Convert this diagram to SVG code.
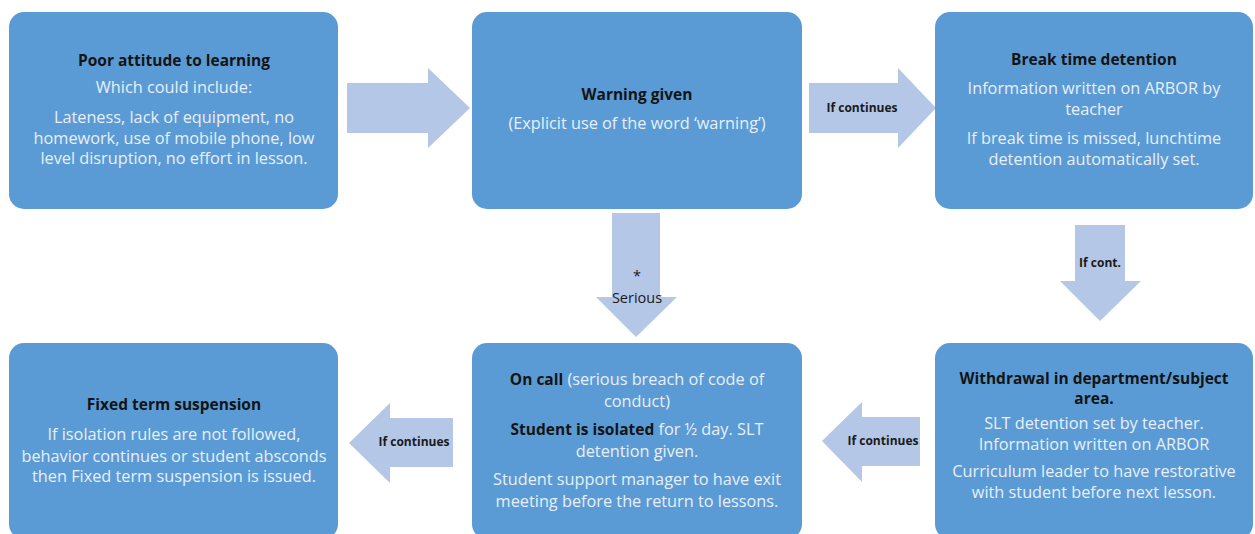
<svg xmlns="http://www.w3.org/2000/svg" width="1255" height="534" viewBox="0 0 1255 534">
  <style>
    .box { fill: #5b9bd5; }
    .arrow { fill: #b4c7e7; }
    text { font-family: "Open Sans", "Liberation Sans", Arial, sans-serif; text-anchor: middle; }
    .title { font-size: 15.5px; font-weight: bold; fill: #141414; }
    .body { font-size: 16.3px; fill: #e8eff8; }
    .lbl { font-size: 12px; font-weight: bold; fill: #1a1a1a; }
    .lbl2 { font-size: 14.5px; fill: #1a1a1a; }
    .dark { font-weight: bold; fill: #141414; font-size: 15.5px; }
  </style>

  <!-- connectors: block arrows between the steps -->
  <g id="connectors">
    <polygon class="arrow" points="347,83 428,83 428,68 470,108 428,148 428,133 347,133"/>
    <polygon class="arrow" points="809,83 898,83 898,68 936,108 898,148 898,133 809,133"/>
    <text class="lbl" x="862" y="112">If continues</text>
    <polygon class="arrow" points="612,213 660,213 660,297 677,297 636,337 596,297 612,297"/>
    <text class="lbl2" x="637" y="281">*</text>
    <text class="lbl2" x="637" y="303">Serious</text>
    <polygon class="arrow" points="1075,225 1125,225 1125,281 1141,281 1100,321 1060,281 1075,281"/>
    <text class="lbl" x="1100" y="267">If cont.</text>
    <polygon class="arrow" points="920,417 862,417 862,402 822,441 862,482 862,466 920,466"/>
    <text class="lbl" x="883" y="445">If continues</text>
    <polygon class="arrow" points="453,418 390,418 390,403 349,443 390,483 390,467 453,467"/>
    <text class="lbl" x="414" y="446">If continues</text>
  </g>

  <g id="poor-attitude">
    <rect class="box" x="9" y="12" width="329" height="197" rx="15"/>
    <text class="title" x="174" y="66">Poor attitude to learning</text>
    <text class="body" x="174" y="93">Which could include:</text>
    <text class="body" x="174" y="123">Lateness, lack of equipment, no</text>
    <text class="body" x="174" y="144">homework, use of mobile phone, low</text>
    <text class="body" x="174" y="164">level disruption, no effort in lesson.</text>
  </g>

  <g id="warning-given">
    <rect class="box" x="472" y="12" width="330" height="197" rx="15"/>
    <text class="title" x="637" y="100">Warning  given</text>
    <text class="body" x="637" y="129">(Explicit use of the word ‘warning’)</text>
  </g>

  <g id="break-time-detention">
    <rect class="box" x="935" y="12" width="318" height="197" rx="15"/>
    <text class="title" x="1094" y="65">Break time detention</text>
    <text class="body" x="1094" y="94">Information written on ARBOR by</text>
    <text class="body" x="1094" y="115">teacher</text>
    <text class="body" x="1094" y="144">If break time is missed, lunchtime</text>
    <text class="body" x="1094" y="165">detention automatically set.</text>
  </g>

  <g id="fixed-term-suspension">
    <rect class="box" x="9" y="343" width="329" height="196" rx="15"/>
    <text class="title" x="174" y="410">Fixed term suspension</text>
    <text class="body" x="174" y="440">If isolation rules are not followed,</text>
    <text class="body" x="174" y="462">behavior continues or student absconds</text>
    <text class="body" x="174" y="482">then Fixed term suspension is issued.</text>
  </g>

  <g id="on-call">
    <rect class="box" x="472" y="343" width="330" height="196" rx="15"/>
    <text class="body" x="637" y="385"><tspan class="dark">On call</tspan> (serious breach of code of</text>
    <text class="body" x="637" y="407">conduct)</text>
    <text class="body" x="637" y="435"><tspan class="dark">Student is isolated</tspan> for ½ day. SLT</text>
    <text class="body" x="637" y="457">detention given.</text>
    <text class="body" x="637" y="485">Student support manager to have exit</text>
    <text class="body" x="637" y="507">meeting before the return to lessons.</text>
  </g>

  <g id="withdrawal">
    <rect class="box" x="935" y="343" width="318" height="196" rx="15"/>
    <text class="title" x="1094" y="384">Withdrawal in department/subject</text>
    <text class="title" x="1094" y="404">area.</text>
    <text class="body" x="1094" y="429">SLT detention set by teacher.</text>
    <text class="body" x="1094" y="450">Information written on ARBOR</text>
    <text class="body" x="1094" y="477">Curriculum leader to have restorative</text>
    <text class="body" x="1094" y="498">with student before next lesson.</text>
  </g>
</svg>
